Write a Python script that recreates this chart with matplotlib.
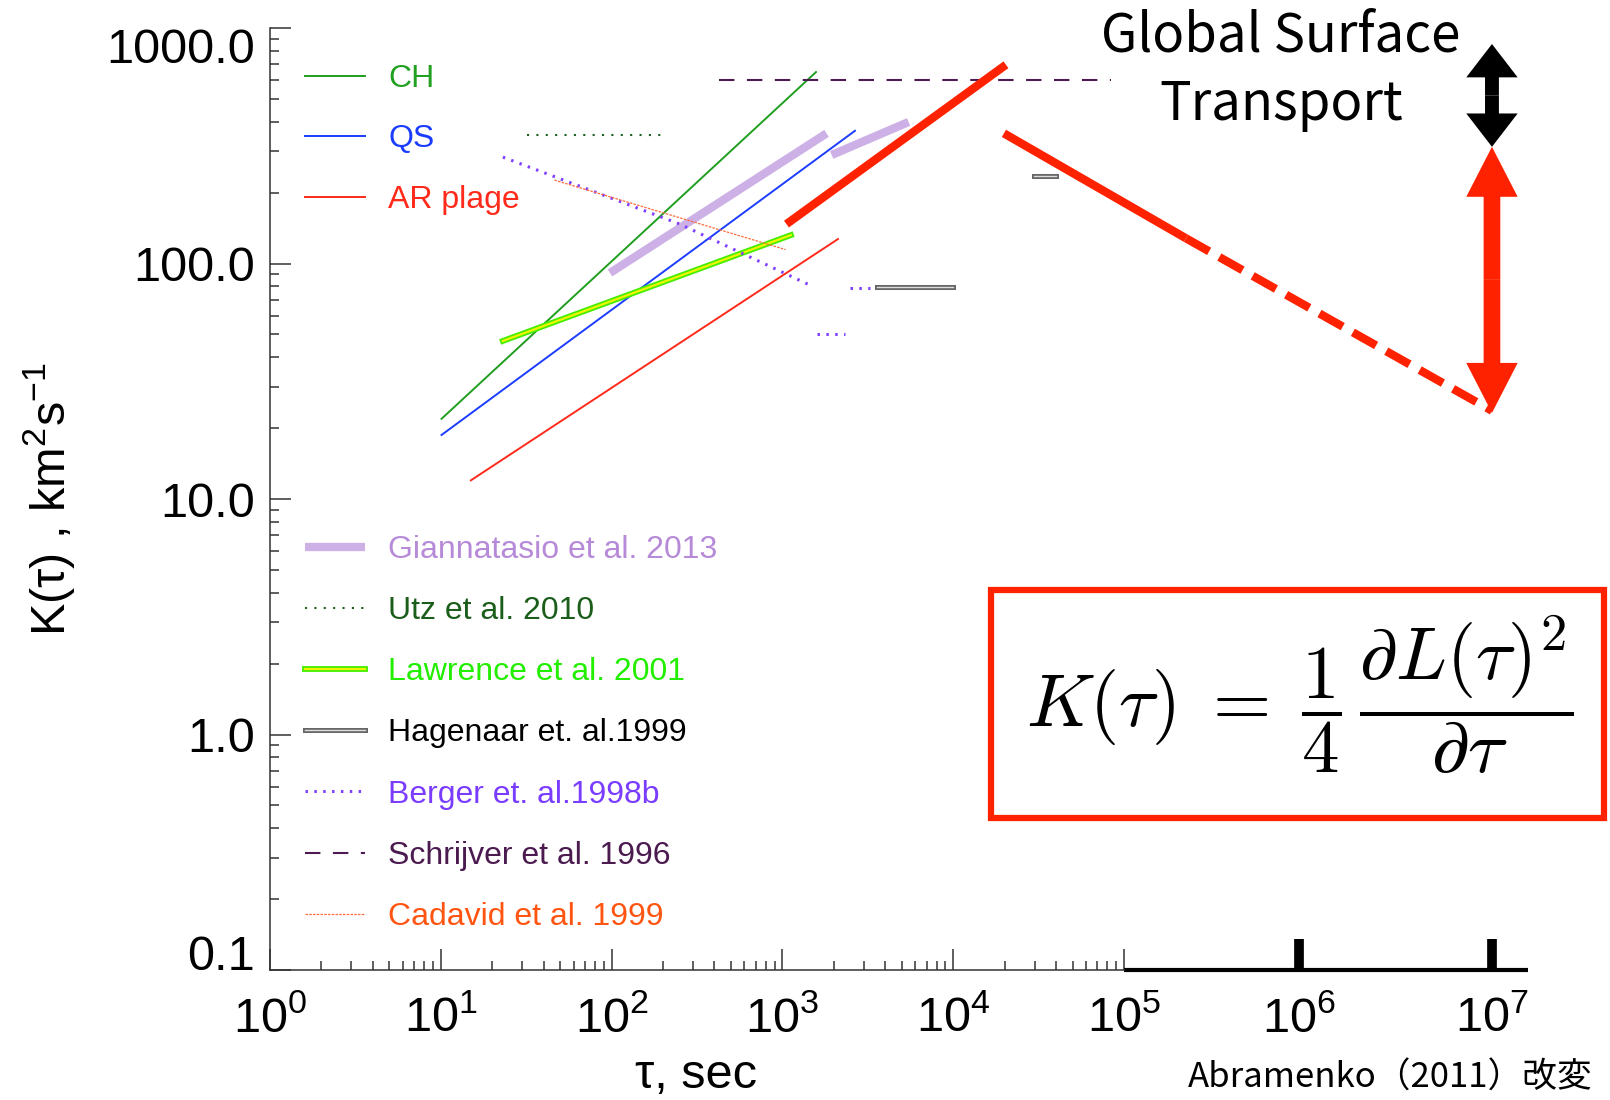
import numpy as np
import matplotlib
matplotlib.use('Agg')
import matplotlib.pyplot as plt
import matplotlib.patheffects as pe
from matplotlib.patches import FancyArrowPatch, ArrowStyle, Rectangle
from matplotlib.ticker import FixedLocator, NullFormatter

plt.rcParams['font.family'] = ['Liberation Sans', 'DejaVu Sans']

# ---- data (tau in sec, K in km^2/s) ----
ch_tau = [10.1, 1574];      ch_k = [21.9, 650]
qs_tau = [10.1, 2661];      qs_k = [18.7, 366]
ar_tau = [15.0, 2117];      ar_k = [12.0, 127]
gian_tau1 = [97.9, 1815];   gian_k1 = [91.2, 357]
gian_tau2 = [1944, 5487];   gian_k2 = [289, 399]
utz_tau = [32, 203];        utz_k = [353, 353]
law_tau = [23.1, 1122];     law_k = [46.9, 132]
hag_tau1 = [3580, 9970];    hag_k1 = [79.4, 79.4]
hag_tau2 = [29700, 40000];  hag_k2 = [235, 235]
ber_tau1 = [23.1, 251, 1490]; ber_k1 = [283, 147, 80.2]
ber_tau2 = [2488, 3258];    ber_k2 = [78.7, 78.7]
ber_tau3 = [1595, 2324];    ber_k3 = [50.2, 50.2]
sch_tau = [425, 83900];     sch_k = [601, 601]
cad_tau = [46.3, 1043];     cad_k = [226, 114.6]

# global surface transport
glob_up_tau = [1057, 20380];      glob_up_k = [147, 698]
glob_down_tau = [19830, 2.26e5];  glob_down_k = [357, 128]
glob_dash_tau = [2.26e5, 1e7];    glob_dash_k = [128, 23.7]
arrow_tau = 1e7
red_arrow_k = [23.2, 313]
black_arrow_k = [313, 855]

ytick_vals = [0.1, 1, 10, 100, 1000]
ytick_labels = ['0.1', '1.0', '10.0', '100.0', '1000.0']
xtick_vals = [1e0, 1e1, 1e2, 1e3, 1e4, 1e5, 1e6, 1e7]
xtick_labels = [r'$\mathdefault{10^{%d}}$' % i for i in range(8)]
ext_ticks = [1e6, 1e7]

# axis beyond 1e5 is squeezed a little differently (pasted extension)
LOG_KNOTS = [-12, 0, 5, 6, 7, 9]
POS_KNOTS = [-12, 0, 5, 6.025, 7.155, 9.415]


def fwd(x):
    x = np.maximum(np.asarray(x, dtype=float), 1e-12)
    return np.interp(np.log10(x), LOG_KNOTS, POS_KNOTS)


def inv(t):
    return 10 ** np.interp(np.asarray(t, dtype=float), POS_KNOTS, LOG_KNOTS)


fig = plt.figure(figsize=(16.1, 11), dpi=100)
ax = fig.add_axes([0.1677, 0.11818, 0.78137, 0.85636])
ax.set_xscale('function', functions=(fwd, inv))
ax.set_yscale('log')
x_right = inv(7.366)
ax.set_xlim(1, x_right)
ax.set_ylim(0.1, 1000)

red = '#ff2200'

# ---- measurements ----
l_gian, = ax.plot(gian_tau1, gian_k1, color='#cdb1e6', lw=6, solid_capstyle='butt',
                  label='Giannatasio et al. 2013', zorder=1)
ax.plot(gian_tau2, gian_k2, color='#cdb1e6', lw=6, solid_capstyle='butt', zorder=1)
l_ch, = ax.plot(ch_tau, ch_k, color='#1f9e1f', lw=1.4, label='CH')
l_qs, = ax.plot(qs_tau, qs_k, color='#1c3dff', lw=1.4, label='QS')
l_ar, = ax.plot(ar_tau, ar_k, color='#ff2a1a', lw=1.4, label='AR plage')
l_utz, = ax.plot(utz_tau, utz_k, color='#1a6020', lw=1.5, dashes=(1, 3.5),
                 label='Utz et al. 2010')
l_law, = ax.plot(law_tau, law_k, color='#f0f400', lw=1.6, label='Lawrence et al. 2001',
                 path_effects=[pe.Stroke(linewidth=4.2, foreground='#44ee00'), pe.Normal()])
l_hag, = ax.plot(hag_tau1, hag_k1, color='#dddddd', lw=1.0, label='Hagenaar et. al.1999',
                 path_effects=[pe.Stroke(linewidth=3.6, foreground='#666666'), pe.Normal()])
ax.plot(hag_tau2, hag_k2, color='#dddddd', lw=1.0,
        path_effects=[pe.Stroke(linewidth=3.6, foreground='#666666'), pe.Normal()])
l_ber, = ax.plot(ber_tau1, ber_k1, color='#8040ff', lw=2.2, dashes=(0.8, 2.1),
                 label='Berger et. al.1998b')
ax.plot(ber_tau2, ber_k2, color='#8040ff', lw=2.2, dashes=(0.8, 2.1))
ax.plot(ber_tau3, ber_k3, color='#8040ff', lw=2.2, dashes=(0.8, 2.1))
l_sch, = ax.plot(sch_tau, sch_k, color='#4d1a52', lw=1.5, dashes=(7.4, 6),
                 label='Schrijver et al. 1996')
l_cad, = ax.plot(cad_tau, cad_k, color='#ff6a3a', lw=0.9, dashes=(2, 1),
                 label='Cadavid et al. 1999')

# global transport
ax.plot(glob_up_tau, glob_up_k, color=red, lw=6, solid_capstyle='butt')
ax.plot(glob_down_tau, glob_down_k, color=red, lw=6, solid_capstyle='butt', clip_on=False)
ax.plot(glob_dash_tau, glob_dash_k, color=red, lw=6, dashes=(3.2, 1.4),
        dash_capstyle='butt', clip_on=False)


def double_arrow(k_pair, hl, hw, tw, color):
    mid = np.sqrt(k_pair[0] * k_pair[1])
    for end in k_pair:
        ax.add_patch(FancyArrowPatch((arrow_tau, mid), (arrow_tau, end),
                                     arrowstyle=ArrowStyle.Simple(head_length=hl, head_width=hw,
                                                                  tail_width=tw),
                                     mutation_scale=1, shrinkA=0, shrinkB=0,
                                     color=color, lw=0, clip_on=False, zorder=5))


double_arrow(red_arrow_k, 36, 37, 12, red)
double_arrow(black_arrow_k, 24, 37, 10, 'black')

# ---- axes styling ----
axcol = '#333333'
for s in ['top', 'right']:
    ax.spines[s].set_visible(False)
for s in ['left', 'bottom']:
    ax.spines[s].set_color(axcol)
    ax.spines[s].set_linewidth(1.1)
ax.spines['bottom'].set_bounds(1, 1e5)

# extension of the time axis to 1e7
ax.plot([1e5, x_right], [0.1, 0.1], color='black', lw=3, solid_capstyle='butt', clip_on=False)
ax.vlines(ext_ticks, 0.1, 0.1354, color='black', lw=7, capstyle='butt', clip_on=False)

ax.yaxis.set_major_locator(FixedLocator(ytick_vals))
ax.yaxis.set_minor_locator(FixedLocator([m * 10.0 ** e for e in range(-1, 3) for m in range(2, 10)]))
ax.yaxis.set_minor_formatter(NullFormatter())
ax.set_yticklabels(ytick_labels, fontsize=35)
ax.xaxis.set_major_locator(FixedLocator(xtick_vals))
ax.xaxis.set_minor_locator(FixedLocator([m * 10.0 ** e for e in range(0, 5) for m in range(2, 10)]))
ax.xaxis.set_minor_formatter(NullFormatter())
ax.set_xticklabels(xtick_labels, fontsize=35)

ax.tick_params(axis='both', which='both', direction='in', color=axcol, width=1.1)
ax.tick_params(axis='both', which='major', length=15)
ax.tick_params(axis='both', which='minor', length=6.5)
ax.tick_params(axis='y', pad=11, right=False)
ax.tick_params(axis='x', pad=19, top=False)
ylabs = ax.get_yticklabels()
ylabs[0].set_va('baseline')
ylabs[-1].set_va('top')

ax.set_xlabel('τ, sec', fontsize=35)
ax.xaxis.set_label_coords(0.3386, -0.125)
ax.xaxis.label.set_va('baseline')
ax.set_ylabel('K(τ) , km$^{\\mathdefault{2}}$s$^{\\mathdefault{-1}}$', fontsize=35)
ax.yaxis.set_label_coords(-0.153, 0.5)

# ---- legends ----
leg_kw = dict(loc='upper left', bbox_transform=fig.transFigure, frameon=False, fontsize=23,
              handlelength=1.87, handletextpad=0.74,
              borderpad=0, borderaxespad=0)
leg1 = ax.legend(handles=[l_ch, l_qs, l_ar], bbox_to_anchor=(305 / 1610, 1 - 64 / 1100),
                 labelcolor=['#22a022', '#1a3cff', '#ff2a1a'], labelspacing=0.95, **leg_kw)
ax.add_artist(leg1)
ax.legend(handles=[l_gian, l_utz, l_law, l_hag, l_ber, l_sch, l_cad],
          bbox_to_anchor=(305 / 1610, 1 - 535 / 1100), labelspacing=0.975,
          labelcolor=['#b68ad8', '#1b5e1b', '#22ee00', 'black', '#7a3cff', '#4b1a4f', '#ff5511'],
          **leg_kw)

# ---- annotations ----
fig.text(1281 / 1610, 1 - 52 / 1100, 'Global Surface', ha='center', va='baseline',
         fontsize=38, family=['Noto Sans CJK JP'])
fig.text(1281 / 1610, 1 - 120 / 1100, 'Transport', ha='center', va='baseline',
         fontsize=38, family=['Noto Sans CJK JP'])

fig.add_artist(Rectangle((991 / 1610, 1 - 818 / 1100), (1604 - 991) / 1610, (818 - 590) / 1100,
                         transform=fig.transFigure, fill=False, ec=red, lw=4.5))
fig.text(1300 / 1610, 1 - 695 / 1100,
         r'$K(\tau)\;=\;\dfrac{1}{4}\,\dfrac{\partial L(\tau)^2}{\partial\tau}$',
         ha='center', va='center', fontsize=54, math_fontfamily='cm')

fig.text(1188 / 1610, 1 - 1088 / 1100, 'Abramenko（2011）改変', ha='left', va='baseline',
         fontsize=25, family=['Noto Sans CJK JP'])

fig.savefig('out.png', dpi=100)
